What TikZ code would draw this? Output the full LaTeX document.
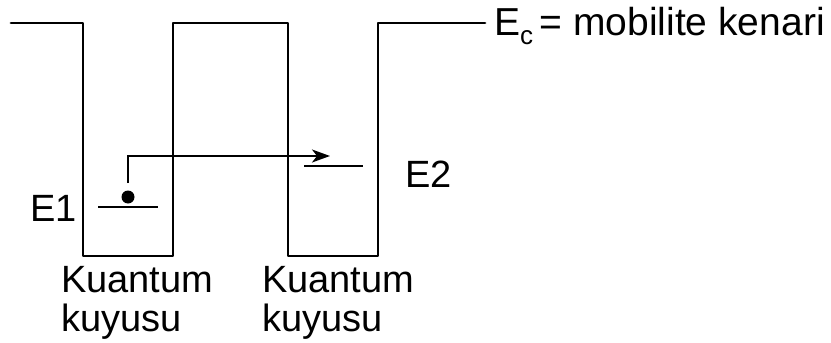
\documentclass[tikz,border=0pt]{standalone}
\usepackage{fontspec}
\setmainfont{Liberation Sans}
\usetikzlibrary{arrows.meta}
\begin{document}
\begin{tikzpicture}[x=1pt,y=-1pt,
  band/.style={line width=2.8pt,line join=round,line cap=round},
  level/.style={line width=2.4pt},
  jump/.style={line width=1.8pt,-{Stealth[length=18pt,width=13pt,inset=5pt]}},
  lbl/.style={inner sep=0pt,font=\fontsize{38}{40}\selectfont}]
\useasboundingbox (0,0) rectangle (831,343);
% conduction band profile
\coordinate (p0) at (11,23);
\coordinate (pend) at (485,23);
\draw[band] (p0) -- (83,23) -- (83,256) -- (173,256) -- (173,23) -- (288,23)
  -- (288,256) -- (378,256) -- (378,23) -- (pend);
% energy levels
\coordinate (e1a) at (98,207); \coordinate (e1b) at (158,207);
\coordinate (e2a) at (304,166); \coordinate (e2b) at (363,166);
\draw[level] (e1a) -- (e1b);
\draw[level] (e2a) -- (e2b);
% electron
\node[circle,fill=black,inner sep=0pt,minimum size=13pt] (el) at (128,197) {};
\coordinate (up) at (128,183);
\coordinate (tip) at (330,156);
\draw[jump] (up) -- (128,156) -- (tip);
% labels
\node[lbl,anchor=base west] (E1) at (30,221) {E1};
\node[lbl,anchor=base west] (E2) at (405,187) {E2};
\node[lbl,anchor=base west,font=\fontsize{39}{41}\selectfont] (Ec) at (494,35) {E\raisebox{-0.25em}{\fontsize{26}{26}\selectfont c}\,= mobilite kenari};
\node[lbl,anchor=base west] (k1a) at (61,292) {Kuantum};
\node[lbl,anchor=base west] (k1b) at (61,331) {kuyusu};
\node[lbl,anchor=base west] (k2a) at (262,292) {Kuantum};
\node[lbl,anchor=base west] (k2b) at (262,331) {kuyusu};
\end{tikzpicture}
\end{document}
